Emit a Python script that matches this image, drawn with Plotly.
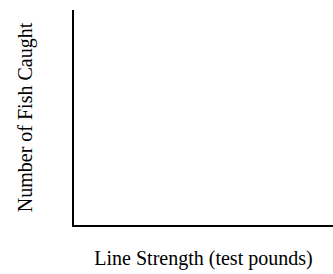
import plotly.graph_objects as go

line_strength = []   # x values (test pounds) - chart is blank
fish_caught = []     # y values
x_title = "Line Strength (test pounds)"
y_title = "Number of Fish Caught"

fig = go.Figure(go.Scatter(x=line_strength, y=fish_caught, mode="markers"))

fig.update_layout(
    width=333, height=274,
    margin=dict(l=74, r=0, t=10, b=49, pad=0),
    paper_bgcolor="white", plot_bgcolor="white",
    showlegend=False,
    font=dict(family="Liberation Serif", size=17, color="black"),
)
fig.update_xaxes(showline=True, linecolor="black", linewidth=2, showgrid=False,
                 zeroline=False, showticklabels=False, ticks="", range=[0, 1],
                 title=dict(text=x_title, standoff=25))
fig.update_yaxes(showline=True, linecolor="black", linewidth=2, showgrid=False,
                 zeroline=False, showticklabels=False, ticks="", range=[0, 1],
                 title=dict(text=y_title, standoff=34))

fig.write_html("out.html", config={"displayModeBar": False},
               post_script="document.body.style.margin='0';")
